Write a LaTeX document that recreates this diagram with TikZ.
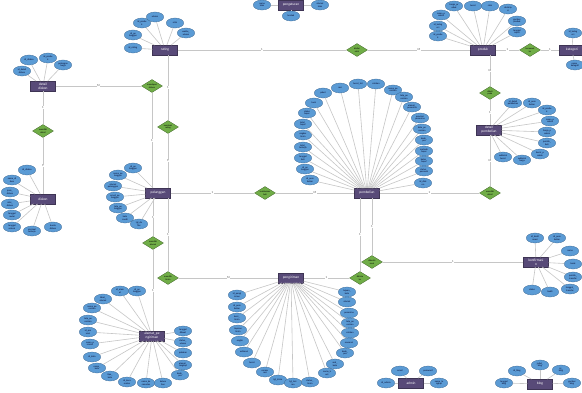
\documentclass[tikz,border=0pt]{standalone}
\usepackage{fontspec}
\setmainfont{Carlito}
\usepackage{tikz}
\usetikzlibrary{shapes.geometric}
\definecolor{ungu}{RGB}{88,74,120}
\definecolor{biru}{RGB}{91,155,213}
\definecolor{hijau}{RGB}{112,173,71}
\tikzset{
  entitas/.style={rectangle, fill=ungu, draw=ungu!70!black, line width=0.3pt, text=white, font=\fontsize{3.5}{3.9}\selectfont, minimum width=25pt, minimum height=9.5pt, inner sep=0.8pt, align=center},
  atribut/.style={ellipse, fill=biru, draw=biru!70!black, line width=0.3pt, text=black!85!blue, font=\fontsize{2.4}{2.7}\selectfont, minimum width=17.5pt, minimum height=10pt, inner sep=0pt, align=center},
  relasi/.style={diamond, fill=hijau, draw=hijau!60!black, line width=0.3pt, aspect=1.6, minimum width=21pt, minimum height=13pt, inner sep=0pt, font=\fontsize{2.3}{2.6}\selectfont, align=center},
  garis/.style={draw=gray!45, line width=0.6pt},
  kardinal/.style={fill=white, inner sep=0.4pt, text=gray!60!black, font=\fontsize{3}{3}\selectfont}
}
\begin{document}
\begin{tikzpicture}[x=1pt,y=-1pt]
    \useasboundingbox[fill=white] (0,0) rectangle (582,392);
    %ENTITAS
    \node[entitas] (rating) at (165,50) {rating};
    \node[entitas] (pengaturan) at (291,5) {pengaturan};
    \node[entitas] (produk) at (483,50) {produk};
    \node[entitas] (kategori) at (572,50) {kategori};
    \node[entitas] (detaildiskon) at (43,86) {detail\\diskon};
    \node[entitas] (diskon) at (43,199) {diskon};
    \node[entitas] (pelanggan) at (158,193) {pelanggan};
    \node[entitas] (pembelian) at (367,193) {pembelian};
    \node[entitas] (detailpembelian) at (489,130) {detail\\pembelian};
    \node[entitas] (konfirmasi) at (536,262) {konfirmasi\\n};
    \node[entitas] (pengiriman) at (291,278) {pengiriman};
    \node[entitas] (alamat) at (152,336) {alamat\_pe\\ngiriman};
    \node[entitas] (admin) at (411,383) {admin};
    \node[entitas] (blog) at (540,384) {blog};
    %RELASI
    \node[relasi] (R1) at (152,86) {mendapat\\diskon};
    \node[relasi] (R2) at (168,127) {memberi\\rating};
    \node[relasi] (R3) at (43,131) {memiliki\\detail};
    \node[relasi] (R4) at (265,193) {melakukan\\beli};
    \node[relasi] (R5) at (153,243) {memiliki\\alamat};
    \node[relasi] (R6) at (168,278) {memilih\\kirim};
    \node[relasi] (R7) at (357,50) {dinilai\\oleh};
    \node[relasi] (R8) at (530,50) {termasuk\\ke};
    \node[relasi] (R9) at (490,93) {dibeli\\pada};
    \node[relasi] (R10) at (490,193) {memiliki\\detail};
    \node[relasi] (R11) at (372,262) {dikonfir\\masi};
    \node[relasi] (R12) at (360,278) {dikirim\\ke};
    %GARIS RELASI
    \draw[garis] (detaildiskon) -- node[kardinal] {M} (R1);
    \draw[garis] (R1) -- node[kardinal] {1} (R1 |- pelanggan.north);
    \draw[garis] (R2 |- rating.south) -- node[kardinal] {1} (R2);
    \draw[garis] (R2) -- node[kardinal] {1} (R2 |- pelanggan.north);
    \draw[garis] (detaildiskon) -- node[kardinal] {1} (R3);
    \draw[garis] (R3) -- node[kardinal] {1} (diskon);
    \draw[garis] (pelanggan) -- node[kardinal] {1} (R4);
    \draw[garis] (R4) -- node[kardinal] {M} (pembelian);
    \draw[garis] (R5 |- pelanggan.south) -- node[kardinal] {1} (R5);
    \draw[garis] (R5) -- node[kardinal] {1} (R5 |- alamat.north);
    \draw[garis] (R6 |- pelanggan.south) -- node[kardinal] {1} (R6);
    \draw[garis] (R6) -- node[kardinal] {M} (pengiriman);
    \draw[garis] (rating) -- node[kardinal] {1} (R7);
    \draw[garis] (R7) -- node[kardinal] {M} (produk);
    \draw[garis] (produk) -- node[kardinal] {1} (R8);
    \draw[garis] (R8) -- node[kardinal] {1} (kategori);
    \draw[garis] (R9 |- produk.south) -- node[kardinal] {M} (R9);
    \draw[garis] (R9) -- node[kardinal] {1} (R9 |- detailpembelian.north);
    \draw[garis] (pembelian) -- node[kardinal] {1} (R10);
    \draw[garis] (R10) -- node[kardinal] {M} (R10 |- detailpembelian.south);
    \draw[garis] (R11 |- pembelian.south) -- node[kardinal] {1} (R11);
    \draw[garis] (R11) -- node[kardinal] {1} (konfirmasi);
    \draw[garis] (R12 |- pembelian.south) -- node[kardinal] {1} (R12);
    \draw[garis] (R12) -- node[kardinal] {1} (pengiriman);
    %ATRIBUT RATING
    \foreach \x/\y/\nm [count=\i] in {133/48/{id\_rating}, 133/35/{id\_pe\\langgan}, 142/23/{id\_produ\\k}, 155/17/{ulasan}, 175/23/{nilai}, 186/33/{waktu\_\\ulasan}}{
        \node[atribut] (rating-\i) at (\x,\y) {\nm};
        \draw[garis] (rating) -- (rating-\i);
    }
    %ATRIBUT PENGATURAN
    \foreach \x/\y/\nm [count=\i] in {262/5/{nama\\toko}, 320/5/{alamat\\toko}, 291/16/{kontak}}{
        \node[atribut] (pengaturan-\i) at (\x,\y) {\nm};
        \draw[garis] (pengaturan) -- (pengaturan-\i);
    }
    %ATRIBUT PRODUK
    \foreach \x/\y/\nm [count=\i] in {438/36/{id\_produ\\k}, 438/26/{id\_kateg\\ori}, 441/15/{nama\_p\\roduk}, 454/6/{harga\_pr\\oduk}, 473/6/{berat}, 490/6/{stok}, 508/9/{deskrip\\si}, 517/21/{gambar\\produk}, 517/32/{tanggal\\input}}{
        \node[atribut] (produk-\i) at (\x,\y) {\nm};
        \draw[garis] (produk) -- (produk-\i);
    }
    %ATRIBUT KATEGORI
    \foreach \x/\y/\nm [count=\i] in {573/33/{id\_kateg\\ori}, 575/65/{nama\_\\kategori}}{
        \node[atribut] (kategori-\i) at (\x,\y) {\nm};
        \draw[garis] (kategori) -- (kategori-\i);
    }
    %ATRIBUT DETAIL DISKON
    \foreach \x/\y/\nm [count=\i] in {22/71/{id\_detail\\diskon}, 29/60/{id\_diskon}, 48/58/{id\_produ\\k}, 63/65/{potongan\\harga}}{
        \node[atribut] (detaildiskon-\i) at (\x,\y) {\nm};
        \draw[garis] (detaildiskon) -- (detaildiskon-\i);
    }
    %ATRIBUT DISKON
    \foreach \x/\y/\nm [count=\i] in {27/170/{id\_diskon}, 12/180/{nama\_di\\skon}, 10/192/{jenis\_\\diskon}, 10/204/{nilai\_\\diskon}, 12/215/{tanggal\\mulai}, 12/227/{tanggal\\selesai}, 32/231/{minimal\\belanja}, 53/227/{kuota\\diskon}}{
        \node[atribut] (diskon-\i) at (\x,\y) {\nm};
        \draw[garis] (diskon) -- (diskon-\i);
    }
    %ATRIBUT PELANGGAN
    \foreach \x/\y/\nm [count=\i] in {133/168/{id\_pe\\langgan}, 118/175/{nama\_pe\\langgan}, 113/186/{alamat\\pelanggan}, 115/197/{email\_pe\\langgan}, 118/208/{telp\_pe\\langgan}, 125/218/{kata\\sandi}, 139/224/{tgl\_da\\ftar}}{
        \node[atribut] (pelanggan-\i) at (\x,\y) {\nm};
        \draw[garis] (pelanggan) -- (pelanggan-\i);
    }
    %ATRIBUT PEMBELIAN
    \foreach \x/\y/\nm [count=\i] in {310/180/{id\_pem\\belian}, 305/169/{id\_pe\\langgan}, 303/158/{tanggal\\beli}, 303/147/{total\_\\belanja}, 303/135/{ongkos\\kirim}, 303/124/{total\_\\bayar}, 307/113/{status\\bayar}, 314/103/{kurir}, 323/93/{paket}, 340/88/{resi}, 358/84/{berat\_tot}, 376/84/{catatan}, 393/90/{nama\_pe\\nerima}, 404/97/{telp\_pe\\nerima}, 412/107/{alamat\_\\penerima}, 420/118/{provinsi\\penerima}, 422/129/{kota\_pe\\nerima}, 424/140/{kode\_\\pos}, 424/151/{metode\\bayar}, 424/161/{batas\_\\bayar}, 424/171/{status\_\\pesanan}, 423/183/{id\_disk\\on}}{
        \node[atribut] (pembelian-\i) at (\x,\y) {\nm};
        \draw[garis] (pembelian) -- (pembelian-\i);
    }
    %ATRIBUT DETAIL PEMBELIAN
    \foreach \x/\y/\nm [count=\i] in {513/103/{id\_detail\\pembelian}, 532/103/{id\_pem\\belian}, 547/110/{id\_produ\\k}, 550/121/{nama\_p\\roduk}, 547/132/{harga\_p\\roduk}, 547/143/{jumlah\_\\beli}, 540/154/{berat\_p\\roduk}, 522/160/{subtotal\\harga}, 503/157/{subtotal\\berat}}{
        \node[atribut] (detailpembelian-\i) at (\x,\y) {\nm};
        \draw[garis] (detailpembelian) -- (detailpembelian-\i);
    }
    %ATRIBUT ALAMAT
    \foreach \x/\y/\nm [count=\i] in {120/291/{id\_alam\\at}, 137/291/{id\_pe\\langgan}, 103/299/{label\_\\alamat}, 92/308/{nama\_pe\\nerima}, 88/320/{telp\_pe\\nerima}, 88/332/{id\_pro\\vinsi}, 90/344/{nama\_p\\rovinsi}, 92/357/{id\_kota}, 97/368/{nama\_\\kota}, 110/376/{tipe\_\\kota}, 127/382/{id\_keca\\matan}, 146/383/{nama\_ke\\camatan}, 163/383/{kelura\\han}, 180/375/{kode\_\\pos}, 183/365/{alamat\_\\lengkap}, 183/353/{patokan}, 183/342/{status\_\\utama}, 183/331/{tanggal\\dibuat}}{
        \node[atribut] (alamat-\i) at (\x,\y) {\nm};
        \draw[garis] (alamat) -- (alamat-\i);
    }
    %ATRIBUT PENGIRIMAN
    \foreach \x/\y/\nm [count=\i] in {237/295/{id\_pengi\\riman}, 237/307/{id\_pem\\belian}, 237/318/{kurir\_\\kirim}, 238/330/{layanan\\kirim}, 240/341/{ongkir}, 244/352/{estimasi}, 252/363/{berat}, 265/372/{nomor\\resi}, 278/380/{tgl\_kirim}, 293/383/{tgl\_teri\\ma}, 310/382/{status\_\\kirim}, 327/373/{nama\_k\\urir}, 335/364/{asal\_\\kota}, 347/292/{tujuan\_\\kota}, 347/302/{alamat}, 349/313/{penerima}, 350/323/{telp\_pe\\nerima}, 350/333/{catatan}, 349/343/{asuransi}, 345/353/{kode\_\\pos}}{
        \node[atribut] (pengiriman-\i) at (\x,\y) {\nm};
        \draw[garis] (pengiriman) -- (pengiriman-\i);
    }
    %ATRIBUT KONFIRMASI
    \foreach \x/\y/\nm [count=\i] in {535/238/{id\_konfi\\rmasi}, 557/238/{id\_pem\\belian}, 570/251/{nama}, 573/264/{bank}, 573/277/{jumlah\_\\transfer}, 570/289/{tanggal\_\\transfer}, 550/292/{bukti}, 532/290/{status}}{
        \node[atribut] (konfirmasi-\i) at (\x,\y) {\nm};
        \draw[garis] (konfirmasi) -- (konfirmasi-\i);
    }
    %ATRIBUT ADMIN
    \foreach \x/\y/\nm [count=\i] in {386/383/{id\_admin}, 400/371/{email}, 428/371/{password}, 439/383/{nama\_le\\ngkap}}{
        \node[atribut] (admin-\i) at (\x,\y) {\nm};
        \draw[garis] (admin) -- (admin-\i);
    }
    %ATRIBUT BLOG
    \foreach \x/\y/\nm [count=\i] in {504/383/{tanggal\\blog}, 517/371/{id\_blog}, 540/365/{judul\_\\blog}, 561/370/{isi\_\\blog}, 572/383/{gambar\\blog}}{
        \node[atribut] (blog-\i) at (\x,\y) {\nm};
        \draw[garis] (blog) -- (blog-\i);
    }
\end{tikzpicture}
\end{document}
